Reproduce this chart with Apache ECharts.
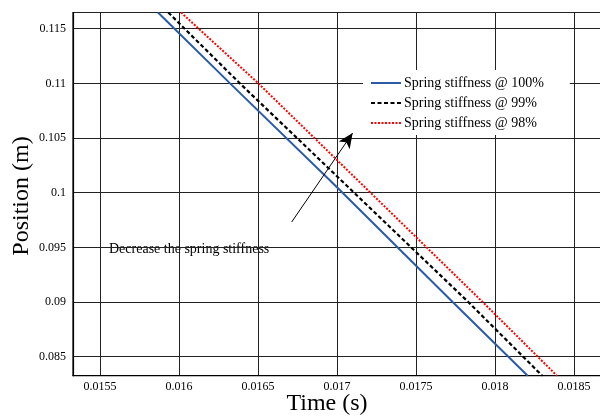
<!DOCTYPE html>
<html>
<head>
<meta charset="utf-8">
<script src="https://cdn.jsdelivr.net/npm/echarts@6/dist/echarts.min.js"></script>
<style>
  html, body { margin: 0; padding: 0; background: #fff; }
  #charts { width: 600px; height: 417px; }
</style>
</head>
<body>
<div id="charts"></div>
<script>
// data: [time (s), position (m)]
const stiffness100 = [[0.015867, 0.11648], [0.016323, 0.11], [0.017, 0.1005], [0.017732, 0.09], [0.018207, 0.08326]];
const stiffness99 = [[0.015932, 0.11648], [0.016385, 0.11], [0.017831, 0.09], [0.018299, 0.08326]];
const stiffness98 = [[0.016013, 0.11648], [0.016502, 0.11], [0.017922, 0.09], [0.018392, 0.08326]];
const seriesNames = ['Spring stiffness @ 100%', 'Spring stiffness @ 99%', 'Spring stiffness @ 98%'];
const arrowFrom = [0.016713, 0.097313];
const arrowTo = [0.017099, 0.105457];
const xRange = [0.015329, 0.018728];
const yRange = [0.08326, 0.11648];

const serif = 'Liberation Serif';

const option = {
    animation: false,
    backgroundColor: '#fff',
    grid: {
        show: true,
        left: 73,
        width: 537, // plot runs past the right edge of the picture
        top: 12.5,
        bottom: 41.3,
        outerBoundsMode: 'none',
        borderColor: '#000',
        borderWidth: 1.2,
        containLabel: false
    },
    xAxis: {
        type: 'value',
        min: xRange[0],
        max: xRange[1],
        minInterval: 0.0005,
        maxInterval: 0.0005,
        axisLine: { show: true, onZero: false, lineStyle: { color: '#000', width: 1.2 } },
        axisTick: { show: false },
        axisLabel: {
            showMinLabel: false,
            showMaxLabel: false,
            margin: 5,
            color: '#000',
            fontFamily: serif,
            fontSize: 12
        },
        splitLine: { show: true, lineStyle: { color: '#222', width: 1 } }
    },
    yAxis: {
        type: 'value',
        min: yRange[0],
        max: yRange[1],
        minInterval: 0.005,
        maxInterval: 0.005,
        axisLine: { show: true, onZero: false, lineStyle: { color: '#000', width: 1.2 } },
        axisTick: { show: false },
        axisLabel: {
            showMinLabel: false,
            showMaxLabel: false,
            margin: 7,
            color: '#000',
            fontFamily: serif,
            fontSize: 12
        },
        splitLine: { show: true, lineStyle: { color: '#222', width: 1 } }
    },
    legend: {
        orient: 'vertical',
        left: 363,
        top: 70,
        padding: [6, 26, 5, 7],
        itemWidth: 30,
        itemHeight: 13,
        itemGap: 6,
        backgroundColor: '#fff',
        itemStyle: { color: 'rgba(0,0,0,0)', borderColor: 'rgba(0,0,0,0)', borderWidth: 0 },
        textStyle: { color: '#000', fontFamily: serif, fontSize: 14, padding: [0, 0, 0, -2] },
        data: seriesNames
    },
    series: [
        {
            name: seriesNames[0],
            type: 'line',
            data: stiffness100,
            symbol: 'none',
            lineStyle: { color: '#2b5ba8', width: 2, type: 'solid' },
            itemStyle: { color: '#2b5ba8' },
            z: 4,
            markLine: {
                silent: true,
                symbol: ['none', 'arrow'],
                symbolSize: [10, 15],
                label: { show: false },
                lineStyle: { color: '#000', width: 1, type: 'solid' },
                data: [[{ coord: arrowFrom }, { coord: arrowTo }]]
            }
        },
        {
            name: seriesNames[1],
            type: 'line',
            data: stiffness99,
            symbol: 'none',
            lineStyle: { color: '#000', width: 2.2, type: [4, 2.5] },
            itemStyle: { color: '#000' },
            z: 3
        },
        {
            name: seriesNames[2],
            type: 'line',
            data: stiffness98,
            symbol: 'none',
            lineStyle: { color: '#ff0000', width: 2, type: [2, 1.5] },
            itemStyle: { color: '#ff0000' },
            z: 2
        }
    ],
    graphic: [
        {
            type: 'text',
            left: 109,
            top: 242,
            style: { text: 'Decrease the spring stiffness', fill: '#000', font: '14px "Liberation Serif"' }
        },
        {
            type: 'text',
            x: 22,
            y: 196,
            rotation: Math.PI / 2,
            style: { text: 'Position (m)', fill: '#000', font: '24px "Liberation Serif"', align: 'center', verticalAlign: 'middle' }
        },
        {
            type: 'text',
            x: 327,
            y: 404,
            style: { text: 'Time (s)', fill: '#000', font: '24px "Liberation Serif"', align: 'center', verticalAlign: 'middle' }
        }
    ]
};

const chart = echarts.init(document.getElementById('charts'));
chart.setOption(option);
</script>
</body>
</html>
